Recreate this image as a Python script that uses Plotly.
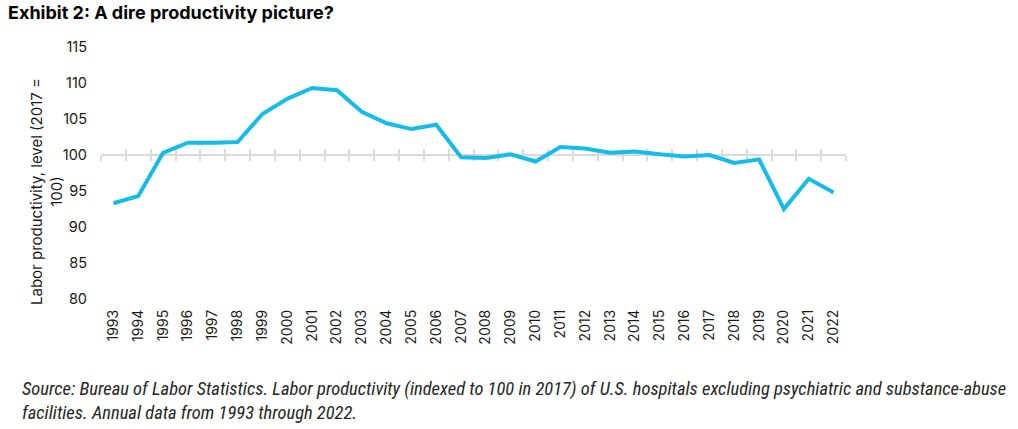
import plotly.graph_objects as go

years = list(range(1993, 2023))
productivity = [93.3, 94.3, 100.3, 101.7, 101.7, 101.8, 105.7, 107.8, 109.3, 109.0,
                106.0, 104.4, 103.6, 104.2, 99.7, 99.6, 100.1, 99.1, 101.1, 100.9,
                100.3, 100.5, 100.1, 99.8, 100.0, 98.9, 99.4, 92.5, 96.7, 94.8]
y_ticks = [80, 85, 90, 95, 100, 105, 110, 115]

title = "<b>Exhibit 2: A dire productivity picture?</b>"
y_title = "Labor productivity, level (2017 =<br>100)"
caption = ("<i>Source: Bureau of Labor Statistics. Labor productivity (indexed to 100 in 2017) of U.S. hospitals excluding psychiatric and substance-abuse</i>"
           "<br><i>facilities. Annual data from 1993 through 2022.</i>")

YMIN, YMAX, BASE = 80, 115, 100
FONT = "Inter, Open Sans, sans-serif"

# plot-area geometry in pixels (for placing free text)
L, R, T, B = 101, 846, 47, 299
PW, PH = R - L, B - T

fig = go.Figure()
fig.add_trace(go.Scatter(x=years, y=productivity, mode="lines",
                         line=dict(color="#16bbea", width=4), hoverinfo="x+y",
                         showlegend=False))
# invisible helper traces so overlay axes render
for ax in ("x2", "x3"):
    fig.add_trace(go.Scatter(x=[years[0]], y=[BASE], xaxis=ax, yaxis="y",
                             mode="markers", marker=dict(opacity=0), showlegend=False,
                             hoverinfo="skip"))

rng = [years[0] - 0.5, years[-1] + 0.5]
pos = (BASE - YMIN) / (YMAX - YMIN)
common_overlay = dict(overlaying="x", anchor="free", position=pos, range=rng,
                      showline=True, linecolor="#d9d9d9", linewidth=1.5,
                      tickmode="linear", tick0=years[0] - 0.5, dtick=1,
                      tickcolor="#d9d9d9", tickwidth=1.5, ticklen=5,
                      showticklabels=False, showgrid=False, zeroline=False,
                      layer="below traces")

fig.update_layout(
    width=1018, height=429,
    margin=dict(l=L, r=1018 - R, t=T, b=429 - B),
    paper_bgcolor="white", plot_bgcolor="white",
    font=dict(family=FONT, color="#1a1a1a"),
    title=dict(text=title, x=8/1018, xanchor="left", xref="container",
               y=1 - 13/429, yanchor="middle", yref="container",
               font=dict(family=FONT, size=18, color="#000", weight=900)),
    xaxis=dict(range=rng, tickmode="array", tickvals=years,
               ticktext=[str(y) for y in years], tickangle=-90,
               tickfont=dict(size=14, color="#1a1a1a"),
               showline=False, showgrid=False, zeroline=False, ticks="",
               ticklabelstandoff=7),
    xaxis2=dict(ticks="outside", **common_overlay),
    xaxis3=dict(ticks="inside", **common_overlay),
    yaxis=dict(range=[YMIN, YMAX], tickvals=y_ticks,
               tickfont=dict(size=14.5, color="#1a1a1a"),
               showgrid=False, zeroline=False, showline=False, ticks="",
               ticklabelstandoff=13),
    annotations=[
        dict(text=y_title, xref="paper", yref="paper",
             x=(46 - L) / PW, y=(B - 192) / PH, xanchor="center", yanchor="middle",
             textangle=-90, align="center", showarrow=False,
             font=dict(family=FONT, size=15, color="#1a1a1a")),
        dict(text=caption, xref="paper", yref="paper",
             x=(20 - L) / PW, y=(B - 376) / PH, xanchor="left", yanchor="top",
             align="left", showarrow=False,
             font=dict(family="Liberation Sans Narrow, Roboto Condensed, Roboto, sans-serif",
                       size=18.5, color="#262626")),
    ],
)
fig.write_html("out.html")
